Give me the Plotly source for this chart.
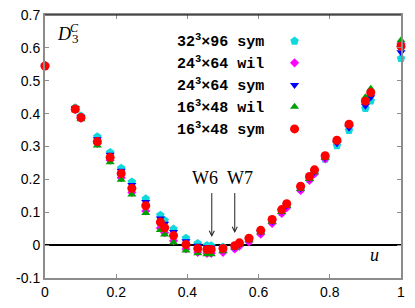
import plotly.graph_objects as go

u = [0.000, 0.085, 0.101, 0.147, 0.183, 0.214, 0.244, 0.283, 0.324, 0.336, 0.361,
     0.396, 0.429, 0.455, 0.467, 0.500, 0.533, 0.546, 0.573, 0.606, 0.638, 0.665,
     0.679, 0.718, 0.743, 0.757, 0.787, 0.820, 0.854, 0.900, 0.915, 1.000]

sym16 = [0.545, 0.414, 0.388, 0.315, 0.267, 0.218, 0.173, 0.120, 0.070, 0.053, 0.029,
         0.002, -0.010, -0.013, -0.013, -0.010, -0.002, 0.007, 0.021, 0.045, 0.078, 0.108,
         0.126, 0.179, 0.209, 0.229, 0.272, 0.319, 0.368, 0.438, 0.464, 0.605]
wil16 = [0.549, 0.410, 0.383, 0.303, 0.252, 0.199, 0.154, 0.098, 0.046, 0.032, 0.008,
         -0.016, -0.025, -0.028, -0.028, -0.019, -0.007, 0.002, 0.015, 0.039, 0.071, 0.101,
         0.119, 0.171, 0.201, 0.222, 0.266, 0.318, 0.368, 0.450, 0.476, 0.623]
sym24 = [0.546, 0.416, 0.390, 0.322, 0.275, 0.226, 0.183, 0.131, 0.081, 0.065, 0.040,
         0.012, -0.002, -0.006, -0.007, -0.008, -0.006, 0.003, 0.017, 0.041, 0.073, 0.103,
         0.121, 0.173, 0.203, 0.223, 0.266, 0.310, 0.357, 0.424, 0.450, 0.587]
wil24 = [0.546, 0.412, 0.385, 0.309, 0.258, 0.205, 0.160, 0.104, 0.052, 0.038, 0.013,
         -0.012, -0.022, -0.025, -0.025, -0.022, -0.012, -0.003, 0.010, 0.033, 0.066, 0.096,
         0.114, 0.166, 0.197, 0.217, 0.262, 0.314, 0.362, 0.440, 0.466, 0.613]
sym32 = [0.545, 0.418, 0.393, 0.330, 0.282, 0.234, 0.192, 0.141, 0.091, 0.075, 0.049,
         0.021, 0.005, -0.001, -0.002, -0.006, -0.008, 0.001, 0.014, 0.038, 0.071, 0.100,
         0.118, 0.170, 0.200, 0.220, 0.262, 0.303, 0.349, 0.416, 0.439, 0.568]

labels = ["32<sup>3</sup>×96 sym", "24<sup>3</sup>×64 wil", "24<sup>3</sup>×64 sym",
          "16<sup>3</sup>×48 wil", "16<sup>3</sup>×48 sym"]
series = [sym32, wil24, sym24, wil16, sym16]
colors = ["#10D8DC", "#FF00FF", "#0000FF", "#00A000", "#FF0000"]
symbols = ["pentagon", "diamond", "triangle-down", "triangle-up", "circle"]
sizes = [9, 7, 8, 8, 9]

xticks = [0, 0.2, 0.4, 0.6, 0.8, 1]
xticktext = ["0", "0.2", "0.4", "0.6", "0.8", "1"]
yticks = [-0.1, 0, 0.1, 0.2, 0.3, 0.4, 0.5, 0.6, 0.7]
yticktext = ["-0.1", "0", "0.1", "0.2", "0.3", "0.4", "0.5", "0.6", "0.7"]

legend_x = 0.701
legend_y = [0.901, 0.818, 0.734, 0.651, 0.567]

fig = go.Figure()
for vals, c, s, sz in zip(series, colors, symbols, sizes):
    fig.add_trace(go.Scatter(x=u, y=vals, mode="markers", cliponaxis=False,
                             marker=dict(color=c, symbol=s, size=sz, line=dict(width=0)),
                             showlegend=False))

# key markers (paper-like overlay axes)
for i, (c, s, sz) in enumerate(zip(colors, symbols, sizes)):
    fig.add_trace(go.Scatter(x=[legend_x], y=[legend_y[i]], xaxis="x2", yaxis="y2",
                             mode="markers", cliponaxis=False,
                             marker=dict(color=c, symbol=s, size=sz, line=dict(width=0)),
                             showlegend=False))
    fig.add_annotation(x=0.622, y=legend_y[i], xref="paper", yref="paper",
                       text="<b>" + labels[i] + "</b>", showarrow=False,
                       xanchor="right", yanchor="middle",
                       font=dict(family="Liberation Mono", size=15, color="black"))

ann_font = dict(family="Liberation Serif", size=18, color="black")
fig.add_annotation(x=0.449, y=0.205, text="W6", showarrow=False, font=ann_font)
fig.add_annotation(x=0.548, y=0.205, text="W7", showarrow=False, font=ann_font)
for xa, tip in [(0.4685, 0.025), (0.533, 0.037)]:
    fig.add_annotation(x=xa, y=tip, ax=xa, ay=0.163, axref="x", ayref="y", text="",
                       showarrow=True, arrowhead=5, arrowsize=1, arrowwidth=1,
                       arrowcolor="#222222", standoff=0, startstandoff=0)

fig.add_annotation(x=0.925, y=-0.031, text="<i>u</i>", showarrow=False,
                   font=dict(family="Liberation Serif", size=18, color="black"))
fig.add_annotation(x=0.054, y=0.929, xref="paper", yref="paper", text="<i>D</i>",
                   xanchor="center", yanchor="middle", showarrow=False,
                   font=dict(family="Liberation Serif", size=18, color="black"))
fig.add_annotation(x=0.0835, y=0.950, xref="paper", yref="paper", text="<i>C</i>",
                   xanchor="center", yanchor="middle", showarrow=False,
                   font=dict(family="Liberation Serif", size=12, color="black"))
fig.add_annotation(x=0.0843, y=0.909, xref="paper", yref="paper", text="3",
                   xanchor="center", yanchor="middle", showarrow=False,
                   font=dict(family="Liberation Serif", size=13, color="black"))

fig.add_shape(type="line", xref="paper", yref="paper", x0=0, x1=1, y0=1, y1=1,
              line=dict(color="black", width=1.2), layer="above")

axis_common = dict(showline=True, linecolor="#8c8c8c", linewidth=2, mirror="ticks",
                   ticks="inside", ticklen=4, tickcolor="#8c8c8c", tickwidth=1,
                   showgrid=False, automargin=False, ticklabeloverflow="allow",
                   tickfont=dict(family="Liberation Sans", size=14, color="black"))
# page body has an 8px margin, so the figure is sized to fit the 415x308 window
fig.update_layout(
    width=407, height=300, margin=dict(l=37, r=14, t=7, b=30),
    paper_bgcolor="white", plot_bgcolor="white",
    xaxis=dict(range=[0, 1], tickvals=xticks, ticktext=xticktext, zeroline=False, **axis_common),
    yaxis=dict(range=[-0.1, 0.7], tickvals=yticks, ticktext=yticktext, zeroline=True,
               zerolinecolor="black", zerolinewidth=2, **axis_common),
    xaxis2=dict(range=[0, 1], overlaying="x", visible=False),
    yaxis2=dict(range=[0, 1], overlaying="y", visible=False),
)
fig.write_html("out.html")
